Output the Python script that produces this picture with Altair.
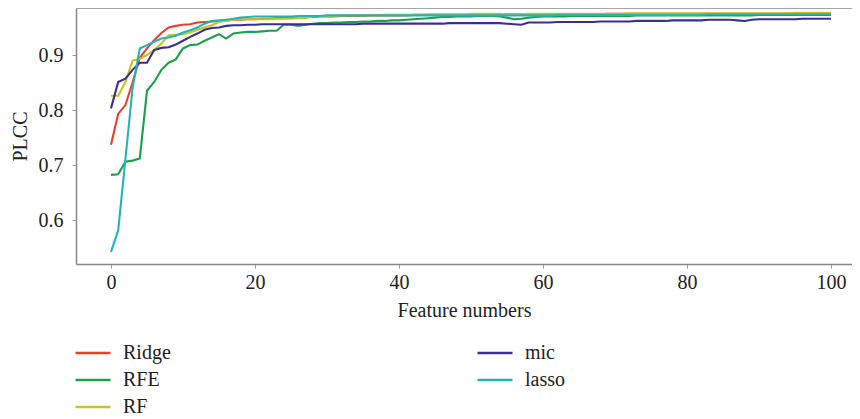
import altair as alt
import pandas as pd

features = list(range(0, 101))

ridge = [
    0.737, 0.793, 0.809, 0.850, 0.895, 0.912, 0.927, 0.940, 0.950, 0.953,
    0.955, 0.956, 0.959, 0.960, 0.961, 0.962, 0.963, 0.964, 0.964, 0.965,
    0.965, 0.966, 0.966, 0.967, 0.967, 0.968, 0.968, 0.969, 0.969, 0.970,
    0.970, 0.970, 0.971, 0.971, 0.971, 0.971, 0.972, 0.972, 0.972, 0.972,
    0.972, 0.972, 0.973, 0.973, 0.973, 0.973, 0.973, 0.973, 0.973, 0.973,
    0.974, 0.974, 0.974, 0.973, 0.973, 0.974, 0.974, 0.974, 0.974, 0.974,
    0.974, 0.974, 0.974, 0.974, 0.974, 0.974, 0.974, 0.974, 0.974, 0.975,
    0.975, 0.975, 0.975, 0.975, 0.975, 0.975, 0.975, 0.975, 0.975, 0.975,
    0.975, 0.975, 0.975, 0.975, 0.975, 0.975, 0.975, 0.975, 0.975, 0.975,
    0.975, 0.975, 0.975, 0.975, 0.975, 0.975, 0.975, 0.975, 0.975, 0.975, 0.975,
]

rfe = [
    0.682, 0.683, 0.706, 0.708, 0.712, 0.835, 0.851, 0.873, 0.886, 0.892,
    0.912, 0.918, 0.919, 0.926, 0.932, 0.938, 0.930, 0.939, 0.941, 0.942,
    0.942, 0.943, 0.944, 0.944, 0.955, 0.955, 0.953, 0.955, 0.957, 0.958,
    0.958, 0.959, 0.959, 0.960, 0.960, 0.961, 0.961, 0.962, 0.962, 0.963,
    0.963, 0.964, 0.965, 0.966, 0.967, 0.968, 0.969, 0.969, 0.970, 0.970,
    0.970, 0.971, 0.971, 0.971, 0.970, 0.968, 0.965, 0.966, 0.968, 0.969,
    0.970, 0.970, 0.970, 0.970, 0.971, 0.971, 0.971, 0.971, 0.971, 0.971,
    0.971, 0.971, 0.971, 0.972, 0.972, 0.972, 0.972, 0.972, 0.972, 0.972,
    0.972, 0.972, 0.972, 0.972, 0.972, 0.972, 0.972, 0.972, 0.972, 0.972,
    0.973, 0.973, 0.973, 0.973, 0.973, 0.973, 0.973, 0.973, 0.973, 0.973, 0.973,
]

rf = [
    0.826, 0.826, 0.851, 0.890, 0.893, 0.900, 0.909, 0.921, 0.936, 0.937,
    0.938, 0.941, 0.946, 0.950, 0.954, 0.960, 0.962, 0.964, 0.965, 0.965,
    0.965, 0.965, 0.965, 0.966, 0.966, 0.966, 0.967, 0.967, 0.970, 0.971,
    0.971, 0.971, 0.972, 0.972, 0.972, 0.972, 0.972, 0.972, 0.973, 0.973,
    0.973, 0.973, 0.973, 0.973, 0.974, 0.974, 0.974, 0.974, 0.974, 0.974,
    0.975, 0.975, 0.975, 0.975, 0.975, 0.974, 0.974, 0.974, 0.975, 0.975,
    0.975, 0.975, 0.975, 0.975, 0.975, 0.975, 0.975, 0.975, 0.975, 0.975,
    0.975, 0.975, 0.976, 0.976, 0.976, 0.976, 0.976, 0.976, 0.976, 0.976,
    0.976, 0.976, 0.976, 0.976, 0.976, 0.976, 0.976, 0.976, 0.976, 0.976,
    0.976, 0.976, 0.976, 0.976, 0.976, 0.977, 0.977, 0.977, 0.977, 0.977, 0.977,
]

mic = [
    0.803, 0.851, 0.857, 0.873, 0.886, 0.886, 0.909, 0.913, 0.914, 0.919,
    0.926, 0.933, 0.939, 0.946, 0.949, 0.950, 0.953, 0.954, 0.954, 0.955,
    0.955, 0.956, 0.956, 0.956, 0.956, 0.956, 0.956, 0.956, 0.956, 0.956,
    0.956, 0.956, 0.956, 0.956, 0.956, 0.957, 0.957, 0.957, 0.957, 0.957,
    0.957, 0.957, 0.957, 0.957, 0.957, 0.957, 0.957, 0.958, 0.958, 0.958,
    0.958, 0.958, 0.958, 0.958, 0.958, 0.957, 0.956, 0.955, 0.959, 0.959,
    0.959, 0.959, 0.960, 0.960, 0.960, 0.960, 0.960, 0.960, 0.961, 0.961,
    0.961, 0.961, 0.961, 0.962, 0.962, 0.962, 0.962, 0.962, 0.963, 0.963,
    0.963, 0.963, 0.963, 0.964, 0.964, 0.964, 0.964, 0.963, 0.962, 0.964,
    0.965, 0.965, 0.965, 0.965, 0.965, 0.965, 0.966, 0.966, 0.966, 0.966, 0.966,
]

lasso = [
    0.542, 0.581, 0.710, 0.840, 0.912, 0.918, 0.924, 0.930, 0.932, 0.935,
    0.941, 0.945, 0.950, 0.957, 0.962, 0.963, 0.964, 0.966, 0.968, 0.969,
    0.970, 0.970, 0.970, 0.970, 0.970, 0.970, 0.971, 0.971, 0.971, 0.971,
    0.972, 0.972, 0.972, 0.972, 0.972, 0.972, 0.972, 0.972, 0.972, 0.972,
    0.972, 0.972, 0.972, 0.972, 0.972, 0.972, 0.972, 0.972, 0.972, 0.972,
    0.972, 0.972, 0.972, 0.972, 0.972, 0.972, 0.972, 0.972, 0.972, 0.972,
    0.972, 0.972, 0.973, 0.973, 0.973, 0.973, 0.973, 0.973, 0.973, 0.973,
    0.973, 0.973, 0.973, 0.973, 0.973, 0.973, 0.973, 0.973, 0.973, 0.973,
    0.973, 0.973, 0.973, 0.974, 0.974, 0.974, 0.974, 0.974, 0.974, 0.974,
    0.974, 0.974, 0.974, 0.974, 0.974, 0.974, 0.974, 0.974, 0.974, 0.974, 0.974,
]

series = {"Ridge": ridge, "RFE": rfe, "RF": rf, "mic": mic, "lasso": lasso}
legend_order = ["Ridge", "RFE", "RF", "mic", "lasso"]
colors = {"Ridge": "#e8402c", "RFE": "#1f9e4c", "RF": "#c4c61c",
          "mic": "#3a2e8e", "lasso": "#23b4b8"}

rows = []
for name, vals in series.items():
    for f, v in zip(features, vals):
        rows.append({"method": name, "feature": f, "plcc": v})
df = pd.DataFrame(rows)

FONT = "'Liberation Serif', serif"
W, H = 776, 256

lines = alt.Chart(df).mark_line(strokeWidth=2.1, clip=True).encode(
    x=alt.X("feature:Q",
            scale=alt.Scale(domain=[-4.86, 102.92], nice=False, zero=False),
            axis=alt.Axis(values=[0, 20, 40, 60, 80, 100], title="Feature numbers",
                          grid=False, tickSize=4, labelPadding=4, titlePadding=8,
                          labelFont=FONT, titleFont=FONT)),
    y=alt.Y("plcc:Q",
            scale=alt.Scale(domain=[0.52, 0.9855], nice=False, zero=False),
            axis=alt.Axis(values=[0.6, 0.7, 0.8, 0.9], format=".1f", title="PLCC",
                          grid=False, tickSize=4, labelPadding=9, titlePadding=8,
                          labelFont=FONT, titleFont=FONT)),
    color=alt.Color("method:N",
                    scale=alt.Scale(domain=legend_order,
                                    range=[colors[m] for m in legend_order]),
                    legend=alt.Legend(title=None, orient="none", legendX=7, legendY=335,
                                      columns=2, columnPadding=301, rowPadding=7,
                                      symbolType="M-3.5,0L3.5,0", symbolSize=100,
                                      symbolStrokeWidth=2.5, labelOffset=20,
                                      labelFontSize=20, labelFont=FONT,
                                      labelColor="#222222", padding=0)),
    detail="method:N",
)

top_border = alt.Chart(pd.DataFrame({"a": [0]})).mark_rule(
    color="#888888", strokeWidth=1.5
).encode(x=alt.value(0), x2=alt.value(W), y=alt.value(0))

chart = alt.layer(lines, top_border).properties(
    width=W, height=H,
    autosize=alt.AutoSizeParams(type="none"),
    padding={"left": 68, "top": 0, "right": 0, "bottom": 155},
).configure_view(stroke=None).configure_axis(
    labelFont=FONT, titleFont=FONT,
    labelFontSize=20, titleFontSize=20,
    labelColor="#222222", titleColor="#222222", titleFontWeight="normal",
    domainColor="#888888", domainWidth=1.5, tickColor="#999999",
)

chart.save("out.html", embed_options={"renderer": "svg", "actions": False})
